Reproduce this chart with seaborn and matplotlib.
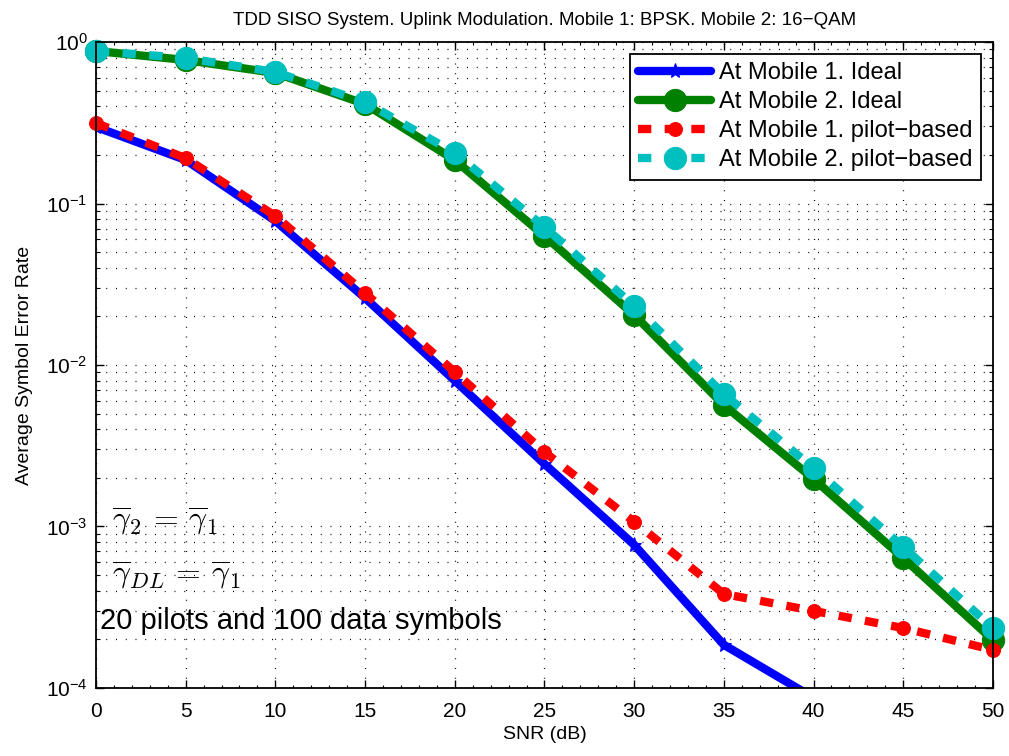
import numpy as np
import pandas as pd
import matplotlib
matplotlib.use('Agg')
import matplotlib.pyplot as plt
import seaborn as sns

# Data
snr = [0, 5, 10, 15, 20, 25, 30, 35, 40, 45, 50]
snr_m1_ideal = [0, 5, 10, 15, 20, 25, 30, 35, 40]
m1_ideal = [0.298, 0.186, 0.078, 0.026, 0.0080, 0.00244, 0.00077, 0.000185, 0.0000870]
m2_ideal = [0.88, 0.774, 0.643, 0.413, 0.186, 0.063, 0.0204, 0.00565, 0.00197, 0.000638, 0.000198]
m1_pilot = [0.315, 0.191, 0.0837, 0.0279, 0.00905, 0.00289, 0.00107, 0.000382, 0.000300, 0.000235, 0.000172]
m2_pilot = [0.88, 0.796, 0.652, 0.425, 0.206, 0.0715, 0.0232, 0.0066, 0.0023, 0.000746, 0.000235]

sns.set_style('white')
plt.rcParams['font.family'] = ['Liberation Sans', 'DejaVu Sans']
plt.rcParams['mathtext.fontset'] = 'cm'
for key in ['text.color', 'axes.labelcolor', 'xtick.color', 'ytick.color']:
    plt.rcParams[key] = 'black'

fig = plt.figure(figsize=(10.09, 7.56), dpi=100)
ax = fig.add_axes([0.0951, 0.09, 0.889, 0.8544])

sns.lineplot(x=snr_m1_ideal, y=m1_ideal, ax=ax, color='#0000ff', lw=6, marker='*',
             markersize=11, markeredgecolor='#0000ff', label='At Mobile 1. Ideal', sort=False)
sns.lineplot(x=snr, y=m2_ideal, ax=ax, color='#008000', lw=6, marker='o',
             markersize=16, markeredgecolor='#008000', label='At Mobile 2. Ideal', sort=False)
sns.lineplot(x=snr, y=m1_pilot, ax=ax, color='#ff0000', lw=6, marker='o',
             markersize=10, markeredgecolor='#ff0000', linestyle='--',
             label='At Mobile 1. pilot\u2212based', sort=False)
sns.lineplot(x=snr, y=m2_pilot, ax=ax, color='#00bfbf', lw=6, marker='o',
             markersize=16, markeredgecolor='#00bfbf', linestyle='--',
             label='At Mobile 2. pilot\u2212based', sort=False)

for ln in ax.get_lines()[2:4]:
    ln.set_dashes([1.6, 1.6])
for ln in ax.get_lines()[1:4]:
    ln.set_clip_on(False)

ax.set_yscale('log')
ax.set_xlim(0, 50)
ax.set_ylim(1e-4, 1)
ax.set_xticks(range(0, 51, 5))
ax.set_xticks(range(0, 51, 1), minor=True)
dots = (0, (0.8, 7))
ax.grid(True, which='major', axis='x', linestyle=dots, color='black', lw=0.9)
ax.grid(True, which='both', axis='y', linestyle=dots, color='black', lw=0.9)
ax.tick_params(axis='both', which='major', direction='in', length=6, width=1,
               labelsize=15, top=True, right=True, bottom=True, left=True)
ax.tick_params(axis='x', which='major', pad=10)
ax.tick_params(axis='y', which='major', pad=6)
ax.tick_params(axis='both', which='minor', direction='in', length=3, width=0.8,
               top=True, right=True, bottom=True, left=True)
ax.tick_params(axis='x', which='minor', length=2)
for s in ax.spines.values():
    s.set_color('black')
    s.set_linewidth(1.3)

ax.set_xlabel('SNR (dB)', fontsize=14, labelpad=4)
ax.set_ylabel('Average Symbol Error Rate', fontsize=14, labelpad=9)
ax.set_title('TDD SISO System. Uplink Modulation. Mobile 1: BPSK. Mobile 2: 16\u2212QAM',
             fontsize=13.5, pad=12)

ax.text(0.9, 1.07e-3, r'$\overline{\gamma}_2\, =\, \overline{\gamma}_1$', fontsize=23,
        va='center', ha='left')
ax.text(0.9, 5.0e-4, r'$\overline{\gamma}_{DL}\, =\, \overline{\gamma}_1$', fontsize=23,
        va='center', ha='left')
ax.text(0.2, 2.6e-4, '20 pilots and 100 data symbols', fontsize=21,
        va='center', ha='left')

leg = ax.legend(loc='upper right', fontsize=17, frameon=True, fancybox=False,
                edgecolor='black', framealpha=1, handlelength=3.1,
                borderaxespad=0.5, labelspacing=0.3, borderpad=0.35,
                handletextpad=0.35)
leg.get_frame().set_linewidth(1.3)

fig.savefig('out.png', dpi=100)
